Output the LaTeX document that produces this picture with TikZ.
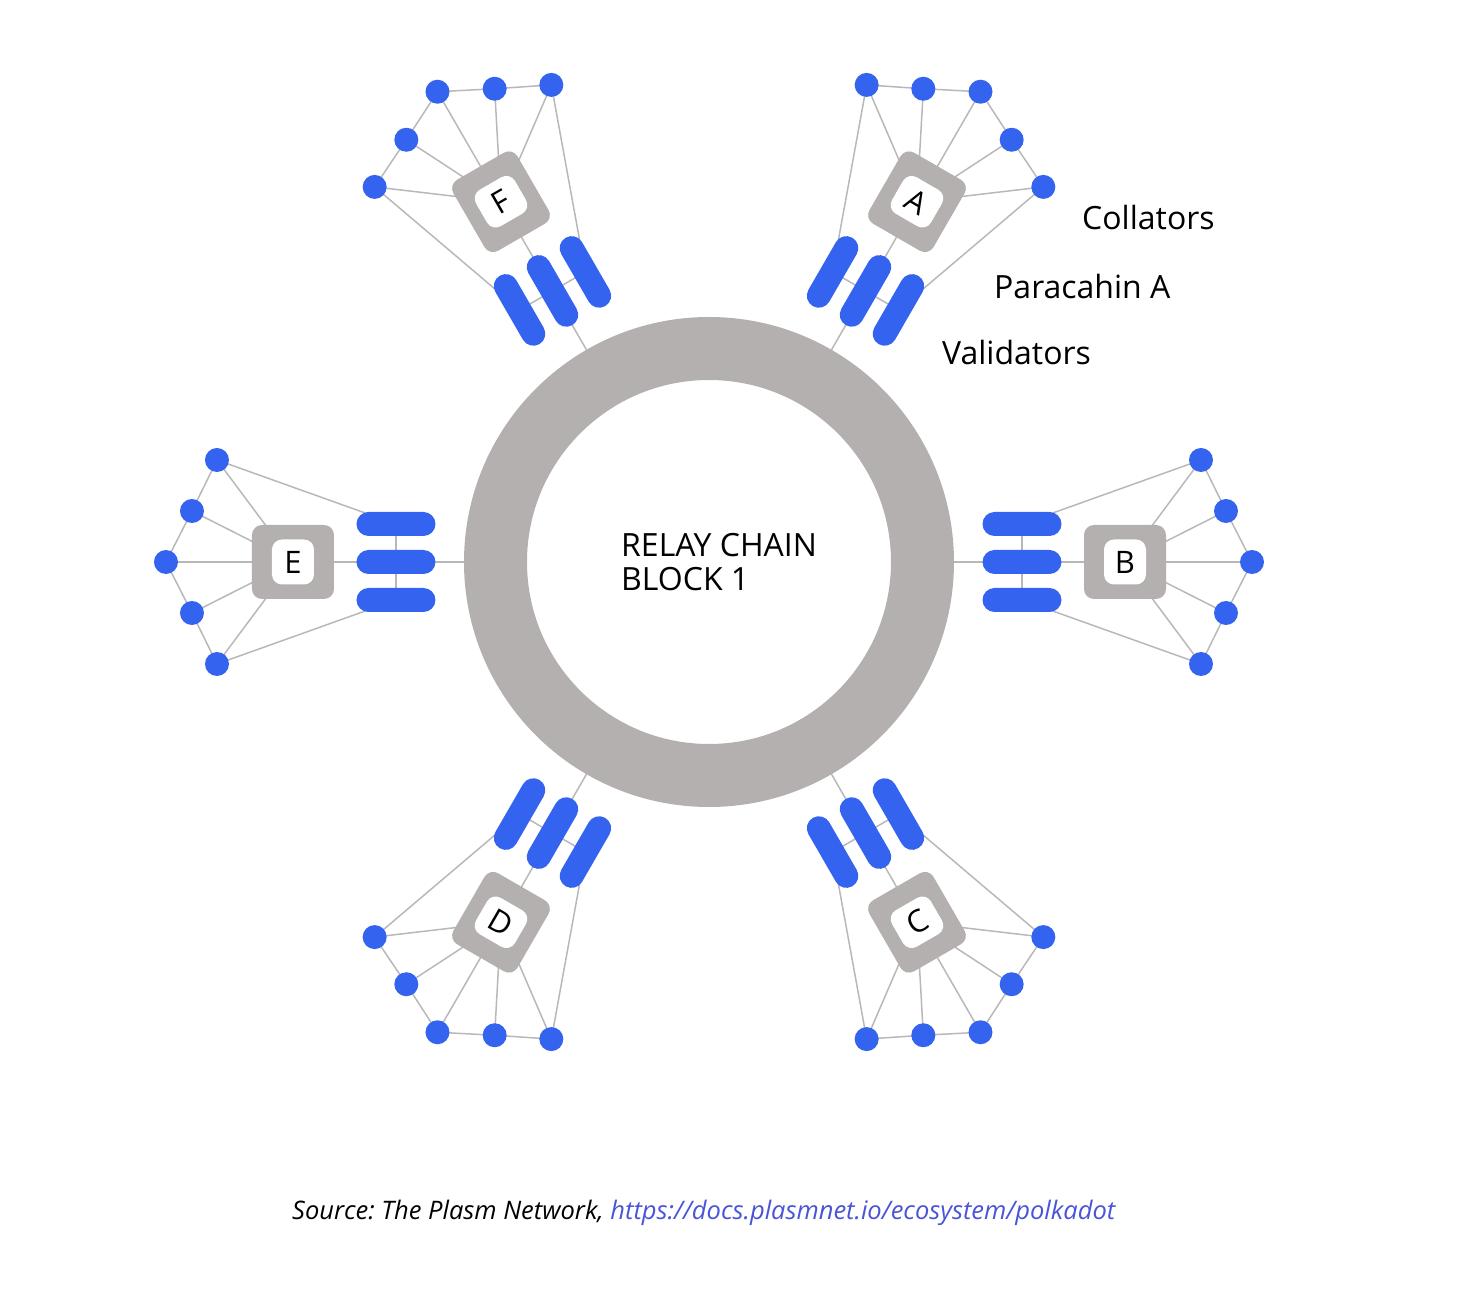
\documentclass[tikz,border=0pt]{standalone}
\usepackage{fontspec}
\setmainfont{Open Sans}
\usetikzlibrary{backgrounds}
\definecolor{pblue}{RGB}{52,99,240}
\definecolor{rgray}{RGB}{179,176,175}
\definecolor{egray}{RGB}{184,184,184}
\definecolor{linkc}{RGB}{74,84,214}
\frenchspacing
\begin{document}
\begin{tikzpicture}[x=1pt,y=1pt,
  edge/.style={draw=egray,line width=1.5pt},
  barnode/.style={rectangle,fill=pblue,minimum width=79pt,minimum height=24pt,inner sep=0pt,rounded corners=12pt},
  boxnode/.style={rectangle,fill=rgray,minimum width=82pt,minimum height=74pt,inner sep=0pt,rounded corners=10pt},
  innernode/.style={rectangle,fill=white,minimum width=42pt,minimum height=45pt,inner sep=0pt,rounded corners=10pt},
  letter/.style={inner sep=0pt,font=\fontsize{31}{35}\selectfont},
  dotnode/.style={circle,fill=pblue,minimum size=24pt,inner sep=0pt},
  lbl/.style={font=\fontsize{32}{36}\selectfont,inner sep=0pt}]
\useasboundingbox (-709,-728) rectangle (751,562);
\node[circle,draw=rgray,line width=63pt,minimum size=427pt,inner sep=0pt] (ring) at (0,0) {};
\node[lbl,anchor=base west] (relay1) at (-88,5) {RELAY CHAIN};
\node[lbl,anchor=base west] (relay2) at (-88,-29) {BLOCK 1};
\node[lbl,anchor=base west] (coll) at (373,332) {Collators};
\node[lbl,anchor=base west] (para) at (285,263) {Paracahin A};
\node[lbl,anchor=base west] (vali) at (233,197) {Validators};
\node[anchor=base west,font=\itshape\fontsize{25.5}{29}\selectfont,inner sep=0pt] (src) at (-417,-657) {Source: The Plasm Network, \textcolor{linkc}{https://docs.plasmnet.io/ecosystem/polkadot}};
\foreach \a/\L/\r in {0/B/0,60/A/-30,120/F/30,180/E/0,240/D/-30,300/C/30}{
  \begin{scope}[rotate=\a]
    \node[barnode,rotate=\a] (bar\L1) at (313,38) {};
    \node[barnode,rotate=\a] (bar\L2) at (313,0) {};
    \node[barnode,rotate=\a] (bar\L3) at (313,-38) {};
    \node[boxnode,rotate=\a] (box\L) at (416,0) {};
    \node[innernode,rotate=\a] (in\L) at (416,0) {};
    \node[letter,rotate=\r] (lt\L) at (416,0) {\L};
    \node[dotnode] (dot\L1) at (492,102) {};
    \node[dotnode] (dot\L2) at (517,51) {};
    \node[dotnode] (dot\L3) at (543,0) {};
    \node[dotnode] (dot\L4) at (517,-51) {};
    \node[dotnode] (dot\L5) at (492,-102) {};
  \end{scope}
  \begin{pgfonlayer}{background}
    \draw[edge] (ring.\a) -- (bar\L2.center);
    \draw[edge] (bar\L1.center) -- (bar\L2.center) -- (bar\L3.center);
    \draw[edge] (bar\L2.center) -- (box\L.center);
    \draw[edge] (bar\L1.center) -- (dot\L1.center);
    \draw[edge] (bar\L3.center) -- (dot\L5.center);
    \draw[edge] (dot\L1.center) -- (dot\L2.center) -- (dot\L3.center) -- (dot\L4.center) -- (dot\L5.center);
    \foreach \k in {1,...,5}{
      \draw[edge] (box\L.center) -- (dot\L\k.center);
    }
  \end{pgfonlayer}
}
\end{tikzpicture}
\end{document}
